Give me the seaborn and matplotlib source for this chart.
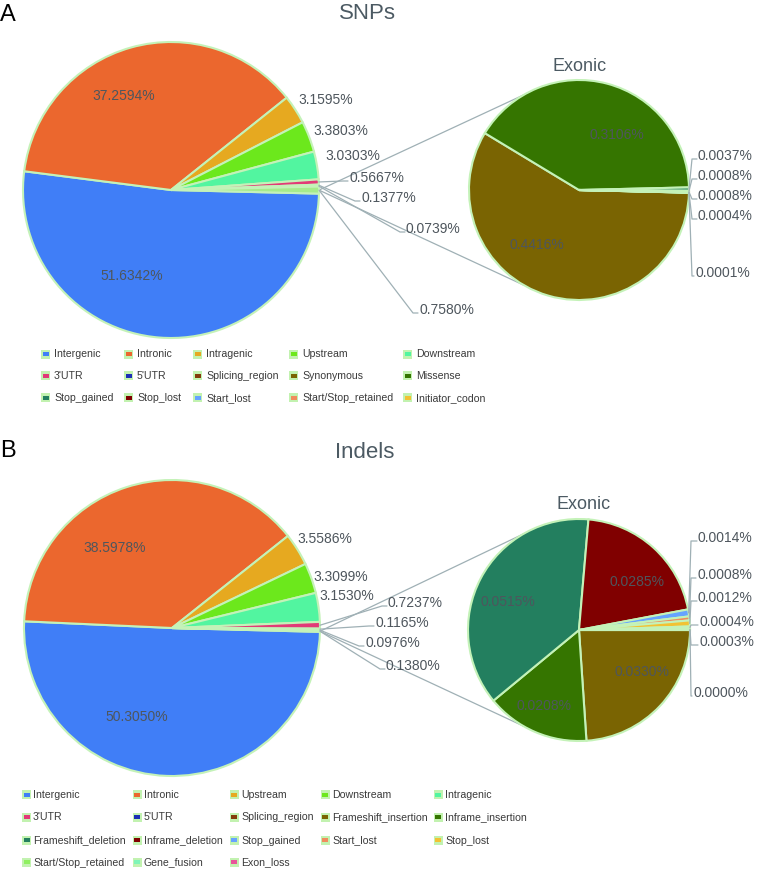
import matplotlib
matplotlib.use("Agg")
import matplotlib.pyplot as plt
import seaborn as sns
import numpy as np
from matplotlib import font_manager
from matplotlib.patches import Rectangle

# ---- values (percent of all variants) ----
snp_main_labels = ["Intergenic", "Intronic", "Intragenic", "Upstream", "Downstream",
                   "3'UTR", "5'UTR", "Splicing_region", "Exonic"]
snp_main_values = [51.6342, 37.2594, 3.1595, 3.3803, 3.0303, 0.5667, 0.1377, 0.0739, 0.7580]
snp_exonic_labels = ["Synonymous", "Missense", "Stop_gained", "Stop_lost", "Start_lost",
                     "Start/Stop_retained", "Initiator_codon"]
snp_exonic_values = [0.4416, 0.3106, 0.0037, 0.0008, 0.0008, 0.0004, 0.0001]

indel_main_labels = ["Intergenic", "Intronic", "Upstream", "Downstream", "Intragenic",
                     "3'UTR", "5'UTR", "Splicing_region", "Exonic"]
indel_main_values = [50.3050, 38.5978, 3.5586, 3.3099, 3.1530, 0.7237, 0.1165, 0.0976, 0.1380]
indel_exonic_labels = ["Frameshift_insertion", "Inframe_insertion", "Frameshift_deletion",
                       "Inframe_deletion", "Stop_gained", "Start_lost", "Stop_lost",
                       "Start/Stop_retained", "Gene_fusion", "Exon_loss"]
indel_exonic_values = [0.0330, 0.0208, 0.0515, 0.0285, 0.0014, 0.0008, 0.0012, 0.0004, 0.0003, 0.0000]

W, H = 773, 871
sns.set_theme(style="white")
plt.rcParams["font.family"] = ["Liberation Sans", "DejaVu Sans"]
installed = {f.name for f in font_manager.fontManager.ttflist}
# the reference legend uses a condensed face; fall back to a smaller regular one
if "Liberation Sans Narrow" in installed:
    legend_font, legend_size = "Liberation Sans Narrow", 9.5
else:
    legend_font, legend_size = "Liberation Sans", 7.6

palette = ["#407ef7", "#eb672e", "#e6a920", "#6ce81c", "#52f5a0", "#e23a77", "#1c2fb5",
           "#843c0c", "#7a6402", "#357500", "#237f5f", "#800000", "#66a3ff", "#f08c5e",
           "#f2c233", "#8ff060", "#7ff5b8", "#e8559a"]
EXONIC_SLICE = "#a6ec8c"
EDGE = "#c4f2b8"
LINE = "#9fb0b5"
TXT = "#4e565d"

fig = plt.figure(figsize=(W / 100, H / 100), dpi=100)
ax = fig.add_axes([0, 0, 1, 1])


def P(x, y):
    # pixel position (top-left origin) -> data coords
    return x, H - y


def draw_pie(values, colors, center, radius, start):
    wedges, _ = ax.pie(values, colors=colors, center=P(*center), radius=radius,
                       startangle=start, counterclock=False,
                       wedgeprops=dict(edgecolor=EDGE, linewidth=1.5))
    return wedges


def rim(w, angle=None):
    a = np.deg2rad((w.theta1 + w.theta2) / 2 if angle is None else angle)
    cx, cy = w.center
    return cx + w.r * np.cos(a), cy + w.r * np.sin(a)


def pct(v):
    return f"{v:.4f}%"


def inner_labels(values, idx, spots):
    for i, (x, y) in zip(idx, spots):
        ax.text(*P(x, y), pct(values[i]), ha="center", va="center", fontsize=10, color=TXT)


def outer_labels(wedges, values, idx, spots, leaders, elbow_x=None):
    for i, (x, y), lead in zip(idx, spots, leaders):
        ax.text(*P(x, y), pct(values[i]), ha="left", va="center", fontsize=10, color=TXT)
        if lead:
            sx, sy = rim(wedges[i])
            ex = x - 6 if elbow_x is None else elbow_x
            ax.plot([sx, ex, x - 1], [sy, H - (y + 3), H - (y + 3)], color=LINE, lw=0.9)


def connect(main_w, exo_w):
    sx, sy = rim(main_w)
    for ang in (120, 240):
        ex, ey = rim(exo_w, ang)
        ax.plot([sx, ex], [sy, ey], color=LINE, lw=0.9, zorder=0)


def legend(names, colors, icon_x, text_x, rows):
    for k, (name, col) in enumerate(zip(names, colors)):
        r, c = divmod(k, 5)
        x, y = P(icon_x[c], rows[r])
        ax.add_patch(Rectangle((x - 4.5, y - 4.5), 9, 9, facecolor="#c2f2b0", edgecolor="none"))
        ax.add_patch(Rectangle((x - 3, y - 2), 6, 4, facecolor=col, edgecolor="none"))
        ax.text(*P(text_x[c], rows[r]), name, ha="left", va="center", fontsize=legend_size,
                color="#3a3a3a", family=[legend_font, "DejaVu Sans"])


# ---------------- A: SNPs ----------------
ax.text(*P(0, 15), "A", ha="left", va="center", fontsize=17, color="black")
ax.text(*P(367, 13), "SNPs", ha="center", va="center", fontsize=16, color="#4c5a63")
ax.text(*P(580, 66), "Exonic", ha="center", va="center", fontsize=13, color="#4c5a63")

a_main = draw_pie(snp_main_values, palette[:8] + [EXONIC_SLICE], (171, 190), 148, -1.4)
a_exo = draw_pie(snp_exonic_values, palette[8:15], (579, 190), 110, -1.4)
connect(a_main[-1], a_exo[0])

inner_labels(snp_main_values, [1, 0], [(124, 96), (132, 276)])
outer_labels(a_main, snp_main_values, range(2, 9),
             [(298, 100), (313, 131), (325, 156), (349, 178), (361, 198), (406, 229), (419, 310)],
             [False, False, False, True, True, True, True])
inner_labels(snp_exonic_values, [0, 1], [(537, 245), (617, 135)])
outer_labels(a_exo, snp_exonic_values, range(2, 7),
             [(698, 156), (698, 176), (698, 196), (698, 216), (695, 273)],
             [True] * 5, elbow_x=692)

legend(snp_main_labels[:8] + snp_exonic_labels, palette[:15],
       [45.5, 128.5, 197.5, 293.5, 407.5], [54, 137, 206, 302, 416], [354, 376, 398])

# ---------------- B: Indels ----------------
ax.text(*P(0, 451), "B", ha="left", va="center", fontsize=17, color="black")
ax.text(*P(365, 452), "Indels", ha="center", va="center", fontsize=16, color="#4c5a63")
ax.text(*P(584, 504), "Exonic", ha="center", va="center", fontsize=13, color="#4c5a63")

b_main = draw_pie(indel_main_values, palette[:8] + [EXONIC_SLICE], (172, 628), 148, -1.5)
b_exo = draw_pie(indel_exonic_values, palette[8:18], (579, 630), 111, 0)
connect(b_main[-1], b_exo[0])

inner_labels(indel_main_values, [1, 0], [(115, 548), (137, 717)])
outer_labels(b_main, indel_main_values, range(2, 9),
             [(297, 539), (313, 577), (319, 596), (388, 603), (375, 623), (365, 643), (386, 666)],
             [False, False, False, True, True, True, True])
inner_labels(indel_exonic_values, [0, 1, 2, 3], [(642, 672), (544, 706), (508, 602), (637, 582)])
outer_labels(b_exo, indel_exonic_values, range(4, 10),
             [(698, 538), (697, 575), (698, 598), (699, 622), (699, 642), (693, 693)],
             [True] * 6, elbow_x=691)

legend(indel_main_labels[:8] + indel_exonic_labels, palette[:18],
       [26.5, 137, 234, 325, 438], [33, 144, 241, 332, 445], [795, 817.5, 840.5, 862.5])

ax.set_xlim(0, W)
ax.set_ylim(0, H)
ax.set_aspect("equal")
ax.axis("off")
fig.savefig("out.png", dpi=100)
